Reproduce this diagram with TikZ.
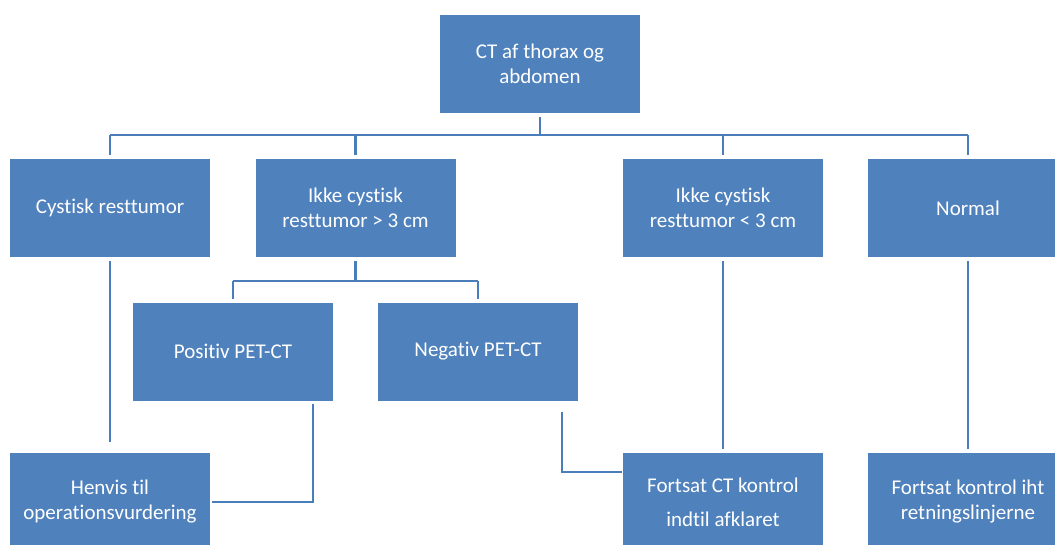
\documentclass[tikz,border=0pt]{standalone}
\usepackage{fontspec}
\setmainfont{Carlito}[Ligatures={NoCommon}]
\definecolor{boxblue}{HTML}{4F81BD}
\definecolor{lineblue}{HTML}{4A7EBB}
\begin{document}
\begin{tikzpicture}[x=1pt,y=-1pt,
  box/.style={draw=none,fill=boxblue,text=white,minimum width=200pt,minimum height=98pt,
    inner sep=0pt,align=center,font=\fontsize{21}{25}\selectfont},
  conn/.style={draw=lineblue,line width=2.2pt},
  gap/.style={shorten <=4pt,shorten >=4pt}]
\useasboundingbox (0,0) rectangle (1055,544);
\clip (0,0) rectangle (1055,544);
\node[box] (top) at (540,64) {CT af thorax og\\abdomen};
\node[box] (cys) at (110,208) {Cystisk resttumor};
\node[box] (ikg) at (355.5,208) {Ikke cystisk\\resttumor > 3 cm};
\node[box] (ikl) at (723,208) {Ikke cystisk\\resttumor < 3 cm};
\node[box] (nor) at (968,208) {Normal};
\node[box] (pos) at (233,351.5) {Positiv PET-CT};
\node[box] (neg) at (478,351.5) {Negativ PET-CT};
\node[box] (hen) at (110,502) {Henvis til\\operationsvurdering};
\node[box,font=\fontsize{21}{34}\selectfont] (fct) at (723,502) {Fortsat CT kontrol\\indtil afklaret};
\node[box] (fko) at (968,502) {Fortsat kontrol iht\\retningslinjerne};
\coordinate (bus) at (540,135);
\coordinate (sub) at (355.5,281);
\coordinate (posturn) at (313,404);
\coordinate (negturn) at (562,412);
% top tree
\draw[conn,shorten <=4pt] (top.south) -- (bus);
\draw[conn] (cys.north |- bus) -- (nor.north |- bus);
\foreach \n in {cys,ikg,ikl,nor}{
  \draw[conn,shorten >=4pt] (\n.north |- bus) -- (\n.north);
}
% subtree of ikg
\draw[conn,shorten <=4pt] (ikg.south) -- (sub);
\draw[conn] (pos.north |- sub) -- (neg.north |- sub);
\draw[conn,shorten >=3pt] (pos.north |- sub) -- (pos.north);
\draw[conn,shorten >=3pt] (neg.north |- sub) -- (neg.north);
% down lines
\draw[conn,gap,shorten >=11pt] (cys.south) -- (hen.north);
\draw[conn,gap] (ikl.south) -- (fct.north);
\draw[conn,gap] (nor.south) -- (fko.north);
\draw[conn,shorten >=2pt] (posturn) |- (hen.east);
\draw[conn,shorten >=1pt] (negturn) |- ([yshift=30pt]fct.west);
\end{tikzpicture}
\end{document}
